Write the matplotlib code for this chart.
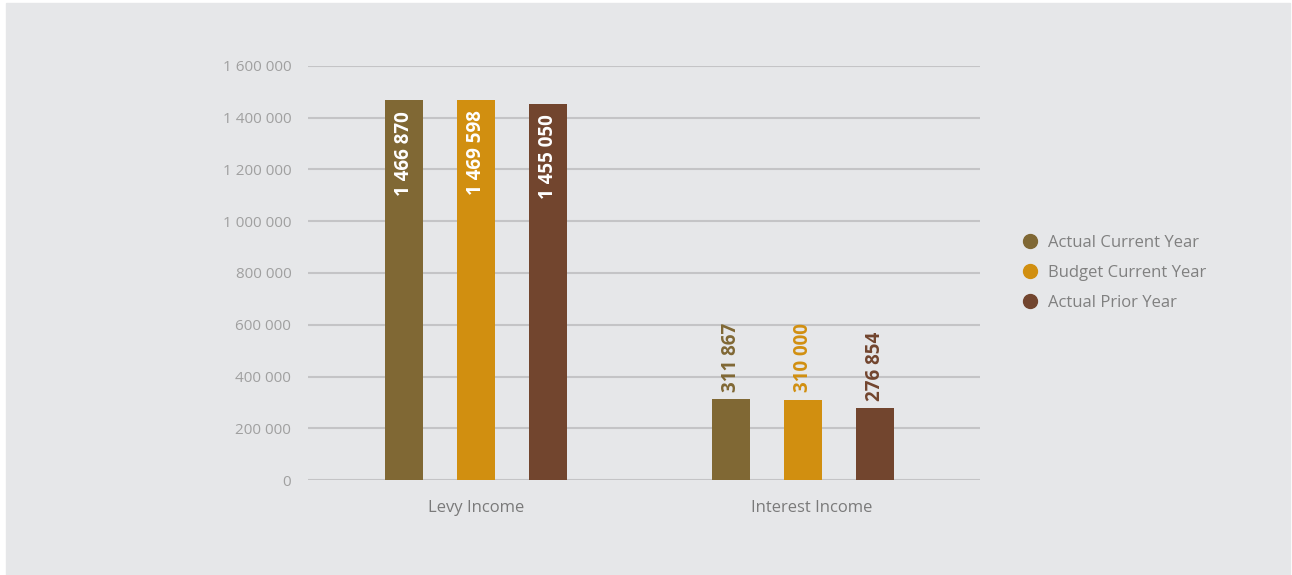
import numpy as np
import matplotlib.pyplot as plt
from matplotlib.lines import Line2D
from matplotlib.patches import Rectangle

plt.rcParams['font.family'] = ['Open Sans', 'DejaVu Sans']

categories = ["Levy Income", "Interest Income"]
series = ["Actual Current Year", "Budget Current Year", "Actual Prior Year"]
actual_current = [1466870, 311867]
budget_current = [1469598, 310000]
actual_prior = [1455050, 276854]
colors = ["#806834", "#d18f10", "#72452e"]
yticks = [0, 200000, 400000, 600000, 800000, 1000000, 1200000, 1400000, 1600000]

def fmt(v):
    return "{:,}".format(v).replace(",", " ")

fig = plt.figure(figsize=(12.92, 5.75), dpi=100, facecolor="white")
fig.patches.append(Rectangle((6 / 1292, 0), 1284 / 1292, 572 / 575,
                             transform=fig.transFigure, color="#e6e7e9", zorder=-10))
ax = fig.add_axes([308 / 1292, 1 - 480 / 575, 672 / 1292, 414 / 575])
ax.set_facecolor("none")

x = np.arange(len(categories))
width = 0.1162
offset = 0.2187
data = [actual_current, budget_current, actual_prior]
for i, (vals, c, name) in enumerate(zip(data, colors, series)):
    pos = x + (i - 1) * offset
    ax.bar(pos, vals, width, color=c, label=name, zorder=3)
    for p, v in zip(pos, vals):
        if v > 1000000:
            ax.text(p, v - 40000, fmt(v), rotation=90, ha="center", va="top",
                    color="white", fontsize=13.5, fontweight="bold", zorder=4)
        else:
            ax.text(p, v + 30000, fmt(v), rotation=90, ha="center", va="bottom",
                    color=c, fontsize=13.5, fontweight="bold", zorder=4)

ax.set_xlim(-0.5138, 1.5413)
ax.set_ylim(0, 1600000)
ax.set_yticks(yticks)
ax.set_yticklabels([fmt(v) for v in yticks], color="#a0a0a0", fontsize=11)
ax.set_xticks([])
# category labels, the second one sits a little right of its bar group
for xi, name, dx in zip(x, categories, [0, 6.5]):
    ax.annotate(name, (xi, 0), xycoords="data", xytext=(dx, -20),
                textcoords="offset points", ha="center", va="center",
                color="#7a7a7a", fontsize=12)
ax.tick_params(axis="y", length=0, pad=12)
for s in ax.spines.values():
    s.set_visible(False)
ax.grid(axis="y", color="#c4c4c6", linewidth=1.5, zorder=0)
ax.set_axisbelow(True)

handles = [Line2D([], [], marker="o", linestyle="none", markersize=10,
                  markerfacecolor=c, markeredgecolor=c) for c in colors]
leg = fig.legend(handles, series, loc="center left",
                 bbox_to_anchor=(1005 / 1292, 1 - 273 / 575), frameon=False,
                 fontsize=12, handletextpad=0.45, labelspacing=0.85, handlelength=1.2)
for t in leg.get_texts():
    t.set_color("#808080")

fig.savefig("out.png", dpi=100)
